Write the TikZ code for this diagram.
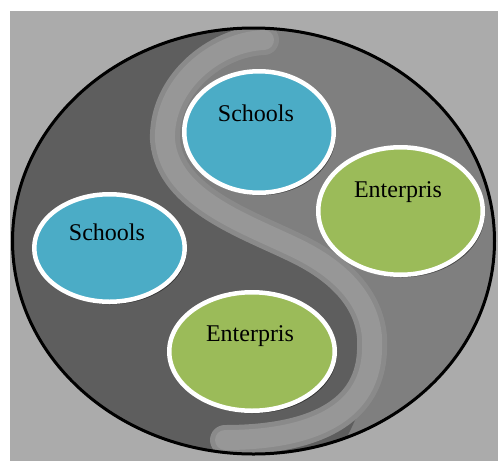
\documentclass[tikz,border=0pt]{standalone}
\usepackage{fontspec}
\setmainfont{Liberation Serif}
\usetikzlibrary{shapes.geometric,shadows}
\definecolor{bgray}{HTML}{ABABAB}
\definecolor{lightreg}{HTML}{7F7F7F}
\definecolor{darkreg}{HTML}{5E5E5E}
\definecolor{bandout}{HTML}{8A8A8A}
\definecolor{bandin}{HTML}{979797}
\definecolor{aqua}{HTML}{4BACC6}
\definecolor{olive}{HTML}{9BBB59}
\begin{document}
\begin{tikzpicture}[x=1pt,y=-1pt,
  bubble/.style={ellipse, draw=white, line width=4.5pt, inner sep=0pt,
    drop shadow={shadow xshift=2pt, shadow yshift=-2.5pt, opacity=0.45, fill=black}},
  lbl/.style={font=\fontsize{24}{28}\selectfont, anchor=base, inner sep=0pt, text=black},
  band/.style={line cap=round, line join=round}]
\useasboundingbox (0,0) rectangle (498,461);
\fill[white] (0,0) rectangle (498,461);
\fill[bgray] (10,11) rectangle (498,461);
\coordinate (c) at (253.5,241);
\coordinate (btop) at (264,40);
\coordinate (bbot) at (225,440);
\fill[lightreg] (c) ellipse [x radius=241, y radius=213];
\begin{scope}
  \clip (c) ellipse [x radius=241, y radius=213];
  \fill[darkreg] (264,0) -- (btop) .. controls (215,42) and (163,85) .. (165,140)
     .. controls (170,200) and (250,225) .. (300,250)
     .. controls (350,275) and (375,310) .. (372,350)
     .. controls (370,400) and (350,430) .. (330,470) -- (0,470) -- (0,0) -- cycle;
  \draw[band, bandout, line width=30pt] (btop) .. controls (215,42) and (163,85) .. (165,140)
     .. controls (170,200) and (250,225) .. (300,250)
     .. controls (350,275) and (375,310) .. (372,350)
     .. controls (370,420) and (300,440) .. (bbot);
  \draw[band, bandin, line width=20pt] (btop) .. controls (215,42) and (163,85) .. (165,140)
     .. controls (170,200) and (250,225) .. (300,250)
     .. controls (350,275) and (375,310) .. (372,350)
     .. controls (370,420) and (300,440) .. (bbot);
\end{scope}
\draw[black, line width=3pt] (c) ellipse [x radius=241, y radius=213];

\node[bubble, fill=aqua, minimum width=149.5pt, minimum height=121.5pt] (s1) at (259,132) {};
\node[bubble, fill=olive, minimum width=164.5pt, minimum height=127.5pt] (e1) at (400.5,211) {};
\node[bubble, fill=aqua, minimum width=150.5pt, minimum height=107.5pt] (s2) at (109.5,248) {};
\node[bubble, fill=olive, minimum width=165.5pt, minimum height=118.5pt] (e2) at (252,351.5) {};

\node[lbl] (ts1) at (256,121) {Schools};
\node[lbl] (te1) at (398,197) {Enterpris};
\node[lbl] (ts2) at (107,240) {Schools};
\node[lbl] (te2) at (250,341) {Enterpris};
\end{tikzpicture}
\end{document}
